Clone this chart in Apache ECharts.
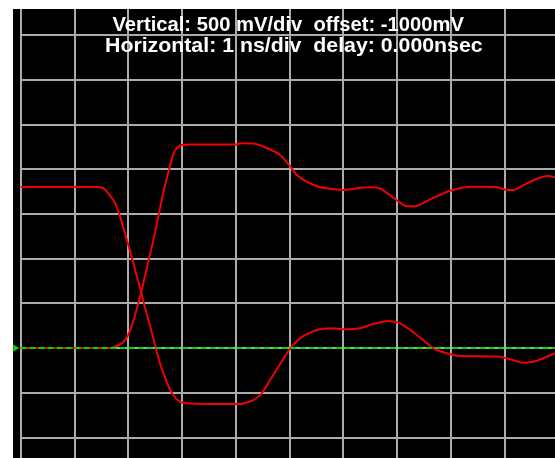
<!DOCTYPE html>
<html>
<head>
<meta charset="utf-8">
<script src="https://cdn.jsdelivr.net/npm/echarts@6/dist/echarts.min.js"></script>
<style>
  html, body { margin: 0; padding: 0; background: #fff; overflow: hidden; width: 555px; height: 458px; }
  #scope { position: absolute; left: 13px; top: 9px; width: 545px; height: 473px; background: #000; }
</style>
</head>
<body>
<div id="scope"></div>
<script>
// Screen settings shown in the header
const headerLines = [
  'Vertical: 500 mV/div  offset: -1000mV',
  'Horizontal: 1 ns/div  delay: 0.000nsec'
];

// Graticule: 1 ns per horizontal division, 500 mV per vertical division
const nsPerDiv = 1;
const mvPerDiv = 500;
const timeRange = [0, 10];
const mvRange = [-1500, 3791];

// Channel reference (ground) level, mV
const groundMv = 0;

// Channel 1: starts high, falls, rings back near ground (time in ns, level in mV)
const ch1Time = [0, 1.42, 1.54, 1.63, 1.76, 1.85, 1.94, 2.03, 2.13, 2.24, 2.31, 2.41, 2.50, 2.59, 2.69, 2.78, 2.89, 3.00,
  3.62, 4.08, 4.33, 4.49, 4.64, 4.83, 5.01, 5.20, 5.38, 5.57, 5.82, 6.00, 6.31, 6.56, 6.84, 7.03, 7.25, 7.49,
  7.68, 7.93, 8.18, 8.92, 9.11, 9.35, 9.54, 9.73, 9.94];
const ch1Mv = [1800, 1800, 1785, 1729, 1617, 1468, 1282, 1095, 871, 626, 458, 246, 33, -168, -336, -470, -565, -610,
  -628, -628, -583, -505, -359, -180, -12, 107, 170, 208, 219, 208, 219, 267, 301, 282, 200, 88,
  -4, -60, -91, -98, -128, -166, -154, -116, -60];

// Channel 2: starts at ground, rises, settles with ringing
const ch2Time = [0, 1.66, 1.72, 1.81, 1.91, 2.00, 2.09, 2.16, 2.25, 2.38, 2.47, 2.56, 2.65, 2.75, 2.82, 2.87, 2.97,
  3.15, 4.02, 4.08, 4.33, 4.58, 4.83, 5.01, 5.14, 5.32, 5.51, 5.70, 6.00, 6.25, 6.50, 6.69, 6.87, 7.03, 7.18,
  7.34, 7.62, 7.80, 7.99, 8.36, 8.86, 9.05, 9.17, 9.42, 9.67, 9.82, 9.94];
const ch2Mv = [0, 0, 7, 27, 66, 144, 290, 435, 636, 983, 1207, 1464, 1729, 1968, 2124, 2208, 2264,
  2275, 2275, 2289, 2286, 2236, 2158, 2035, 1934, 1859, 1809, 1785, 1766, 1785, 1796, 1783, 1710, 1638, 1584,
  1584, 1662, 1710, 1758, 1803, 1800, 1766, 1766, 1841, 1906, 1923, 1908];

const pairUp = (xs, ys) => xs.map((x, i) => [x, ys[i]]);

const gridLine = { show: true, showMinLine: true, showMaxLine: false, lineStyle: { color: '#ababab', width: 2 } };
const traceStyle = { color: '#f00000', width: 2 };
const headerFont = 'bold 20px "Liberation Sans", Arial, sans-serif';

const chart = echarts.init(document.getElementById('scope'), null, { renderer: 'canvas' });
chart.setOption({
  backgroundColor: '#000000',
  animation: false,
  graphic: [
    { type: 'text', x: 99.5, y: 6, scaleX: 1.01, z: 10, silent: true,
      style: { text: headerLines[0], fill: '#ffffff', font: headerFont, verticalAlign: 'top' } },
    { type: 'text', x: 92, y: 27.5, scaleX: 1.065, z: 10, silent: true,
      style: { text: headerLines[1], fill: '#ffffff', font: headerFont, verticalAlign: 'top' } }
  ],
  grid: { left: 7.7, right: 0, top: 0, bottom: 0, containLabel: false },
  xAxis: {
    type: 'value', min: timeRange[0], max: timeRange[1], interval: nsPerDiv,
    axisLine: { show: false }, axisTick: { show: false }, axisLabel: { show: false },
    splitLine: gridLine
  },
  yAxis: {
    type: 'value', min: mvRange[0], max: mvRange[1], interval: mvPerDiv,
    axisLine: { show: false }, axisTick: { show: false }, axisLabel: { show: false },
    splitLine: gridLine
  },
  series: [
    {
      name: 'ground',
      type: 'line',
      data: [],
      silent: true,
      markLine: {
        silent: true,
        symbol: 'none',
        label: { show: false },
        lineStyle: { color: '#00d800', width: 2, type: [6, 3] },
        data: [{ yAxis: groundMv }]
      },
      markPoint: {
        silent: true,
        symbol: 'triangle',
        symbolSize: [7, 6],
        symbolRotate: -90,
        symbolOffset: [-4.5, 0],
        label: { show: false },
        itemStyle: { color: '#00d800' },
        data: [{ coord: [timeRange[0], groundMv] }]
      }
    },
    {
      name: 'CH1',
      type: 'line',
      data: pairUp(ch1Time, ch1Mv),
      showSymbol: false,
      smooth: 0.2,
      lineStyle: traceStyle
    },
    {
      name: 'CH2',
      type: 'line',
      data: pairUp(ch2Time, ch2Mv),
      showSymbol: false,
      smooth: 0.2,
      lineStyle: traceStyle
    }
  ]
});
</script>
</body>
</html>
